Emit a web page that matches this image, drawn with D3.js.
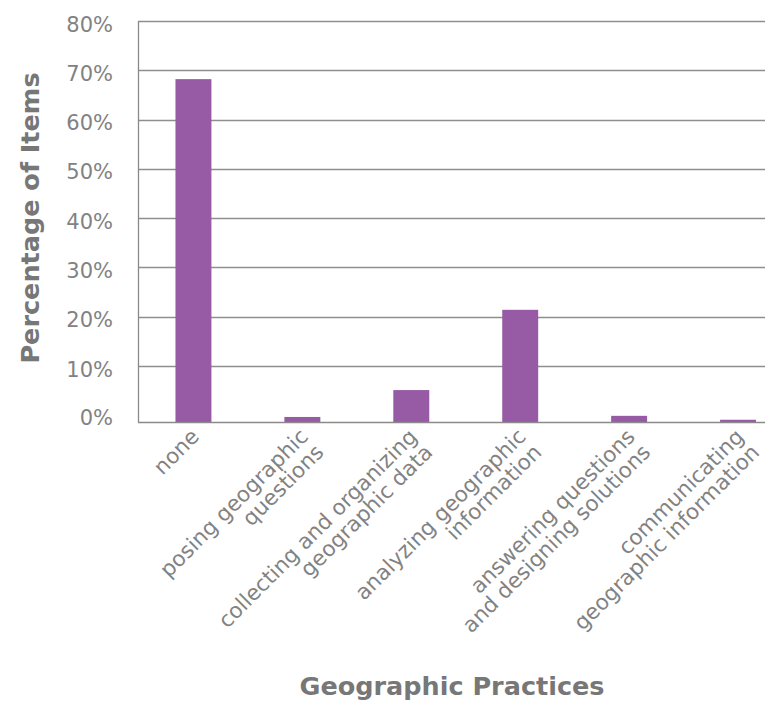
<!DOCTYPE html>
<html>
<head>
<meta charset="utf-8">
<script src="https://cdn.jsdelivr.net/npm/d3@7"></script>
<style>
  body { margin: 0; background: #fff; }
  text { font-family: "DejaVu Sans", sans-serif; fill: #828282; }
</style>
</head>
<body>
<div id="chart"></div>
<script>
// categories (each label split into its lines)
var practices = [
  ["none"],
  ["posing geographic", "questions"],
  ["collecting and organizing", "geographic data"],
  ["analyzing geographic", "information"],
  ["answering questions", "and designing solutions"],
  ["communicating", "geographic information"]
];
// share of items per practice
var shares = [0.682, 0.009, 0.057, 0.214, 0.011, 0.004];
var ticks = [0, 0.1, 0.2, 0.3, 0.4, 0.5, 0.6, 0.7, 0.8];

var width = 765, height = 702;
var plotLeft = 138, axisY = 422, plotTop = 21;

var svg = d3.select("#chart").append("svg")
  .attr("width", width)
  .attr("height", height);

// the bottom gap (0 to 10%) is a little taller than the others in the original
var y = d3.scaleLinear()
  .domain([0, 0.1, 0.8])
  .range([axisY, 366, plotTop]);

// plot runs past the right edge of the picture, as in the original
var x = d3.scaleBand()
  .domain(d3.range(practices.length))
  .range([plotLeft, 793.5])
  .paddingInner(0.67)
  .paddingOuter(0.344);

// gridlines
svg.append("g")
  .selectAll("line")
  .data(ticks.slice(1))
  .enter()
  .append("line")
  .attr("x1", plotLeft)
  .attr("x2", width)
  .attr("y1", function (d) { return Math.round(y(d)) + 0.5; })
  .attr("y2", function (d) { return Math.round(y(d)) + 0.5; })
  .attr("stroke", "#8f8f8f")
  .attr("stroke-width", 1.3);

// tick labels
svg.append("g")
  .selectAll("text")
  .data(ticks)
  .enter()
  .append("text")
  .attr("x", 113)
  .attr("y", function (d) { return d === 0 ? y(d) - 5 : y(d) + 3; })
  .attr("dy", "0.36em")
  .attr("text-anchor", "end")
  .style("font-size", "21px")
  .text(d3.format(".0%"));

// bars
svg.append("g")
  .selectAll("rect")
  .data(shares)
  .enter()
  .append("rect")
  .attr("x", function (d, i) { return x(i); })
  .attr("width", x.bandwidth())
  .attr("y", function (d) { return y(d); })
  .attr("height", function (d) { return axisY - y(d); })
  .attr("fill", "#975aa4");

// axis lines
svg.append("line")
  .attr("x1", plotLeft + 0.5).attr("x2", plotLeft + 0.5)
  .attr("y1", plotTop).attr("y2", axisY)
  .attr("stroke", "#8a8a8a").attr("stroke-width", 1.3);
svg.append("line")
  .attr("x1", plotLeft).attr("x2", width)
  .attr("y1", axisY + 0.5).attr("y2", axisY + 0.5)
  .attr("stroke", "#8a8a8a").attr("stroke-width", 1.5);

// category labels, rotated
var lh = 22;
var labels = svg.append("g")
  .selectAll("g")
  .data(practices)
  .enter()
  .append("g")
  .attr("transform", function (d, i) {
    return "translate(" + (x(i) + x.bandwidth() / 2 + 7) + "," + (axisY + 16) + ") rotate(-45)";
  });

labels.append("text")
  .attr("text-anchor", "end")
  .style("font-size", "21.5px")
  .selectAll("tspan")
  .data(function (d) { return d; })
  .enter()
  .append("tspan")
  .attr("x", 0)
  .attr("y", function (d, i) { return i * lh; })
  .text(function (d) { return d; });

// axis titles
svg.append("text")
  .attr("transform", "translate(39,218) rotate(-90)")
  .attr("text-anchor", "middle")
  .style("font-size", "25.5px")
  .style("font-weight", "bold")
  .style("fill", "#777777")
  .text("Percentage of Items");

svg.append("text")
  .attr("x", 452)
  .attr("y", 695)
  .attr("text-anchor", "middle")
  .style("font-size", "25.5px")
  .style("font-weight", "bold")
  .style("fill", "#777777")
  .text("Geographic Practices");
</script>
</body>
</html>
